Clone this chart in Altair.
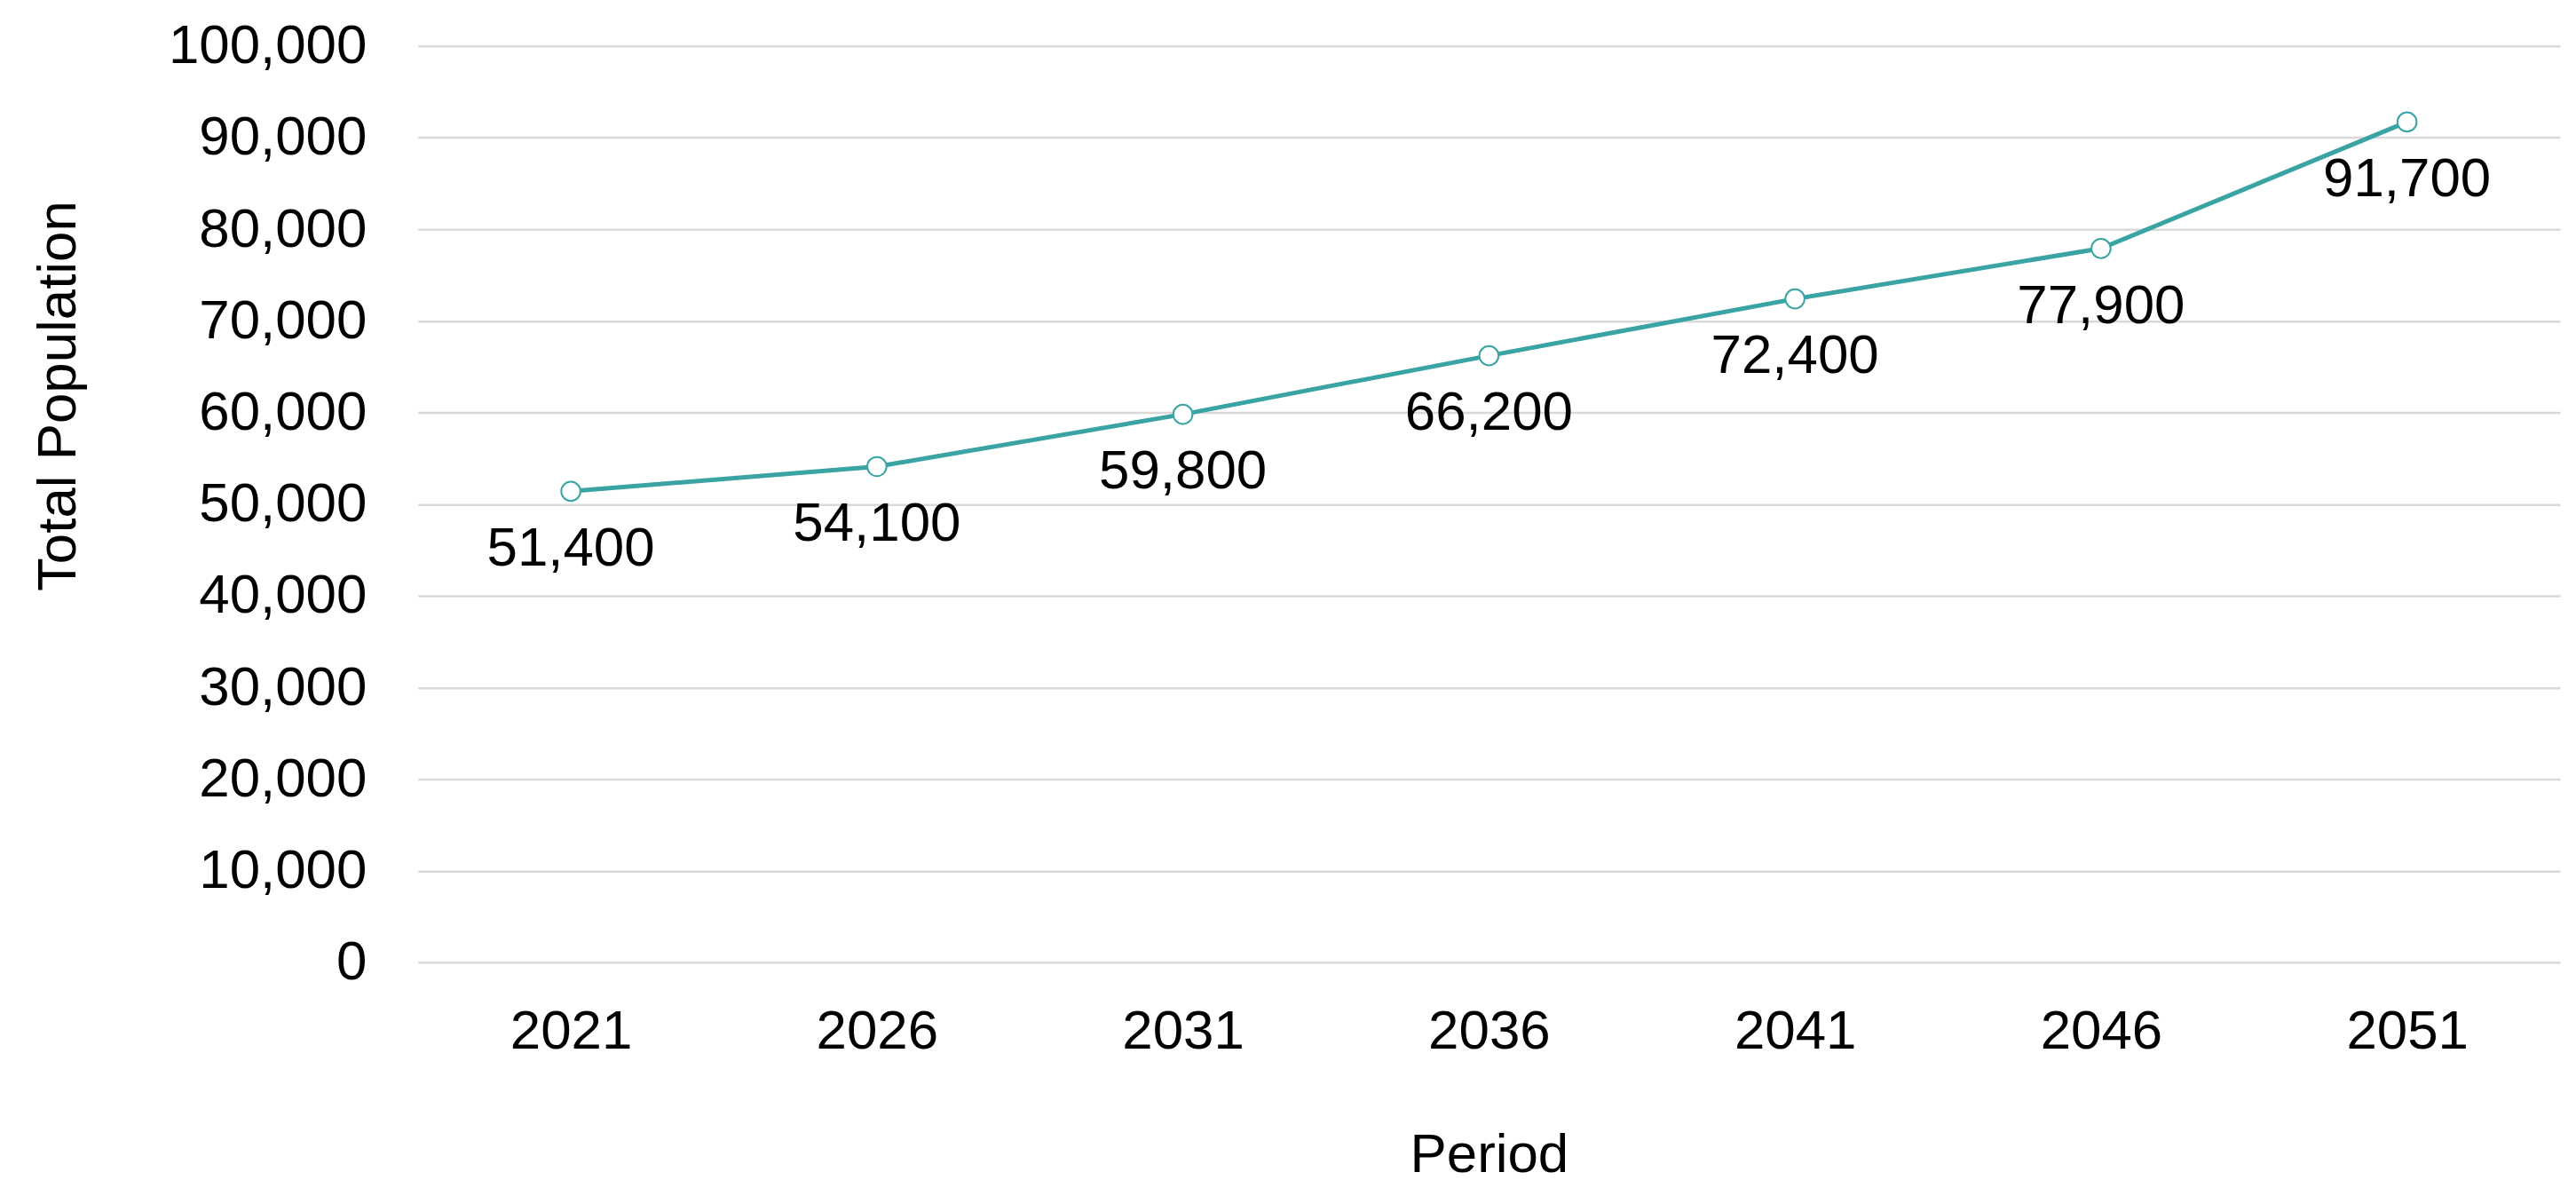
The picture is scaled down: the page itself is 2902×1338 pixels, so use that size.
import altair as alt
import pandas as pd

periods = ["2021", "2026", "2031", "2036", "2041", "2046", "2051"]
population = [51400, 54100, 59800, 66200, 72400, 77900, 91700]

df = pd.DataFrame({"Period": periods, "Population": population})

FONT = "Liberation Sans"
TEAL = "#3aa3a3"

base = alt.Chart(df).encode(
    x=alt.X("Period:N", sort=periods, scale=alt.Scale(type="point", padding=0.5),
            axis=alt.Axis(title="Period", labelAngle=0, domain=False, ticks=False,
                          grid=False, labelPadding=48, labelFontSize=62,
                          labelFont=FONT, labelColor="#000000", labelLimit=0,
                          titleFont=FONT, titleFontSize=62, titleFontWeight="normal",
                          titleColor="#000000", titleBaseline="alphabetic",
                          titleY=236)),
    y=alt.Y("Population:Q", scale=alt.Scale(domain=[0, 100000], nice=False),
            axis=alt.Axis(title="Total Population", values=list(range(0, 100001, 10000)),
                          format=",d", domain=False, ticks=False, grid=True,
                          gridColor="#d9d9d9", gridWidth=2.5, labelPadding=58,
                          labelFontSize=62, labelFont=FONT, labelColor="#000000",
                          labelLimit=0,
                          titleFont=FONT, titleFontSize=62, titleFontWeight="normal",
                          titleColor="#000000", titleBaseline="alphabetic",
                          titleAngle=-90, titleAlign="center", titleLimit=0,
                          titleX=-387, titleY=395)),
)

line = base.mark_line(color=TEAL, strokeWidth=5)
points = base.mark_point(shape="circle", filled=True, fill="#ffffff", stroke=TEAL,
                         strokeWidth=2, size=470, opacity=1)
labels = base.mark_text(font=FONT, fontSize=62, color="#000000", baseline="alphabetic",
                        align="center", dy=84).encode(
    text=alt.Text("Population:Q", format=",d"))

chart = (line + points + labels).properties(
    width=2420, height=1035,
    background="#ffffff",
    autosize=alt.AutoSizeParams(type="none"),
    padding={"left": 464, "top": 42, "right": 10, "bottom": 250},
).configure_view(stroke=None)

chart.save("out.html", embed_options={"renderer": "svg", "actions": False})
